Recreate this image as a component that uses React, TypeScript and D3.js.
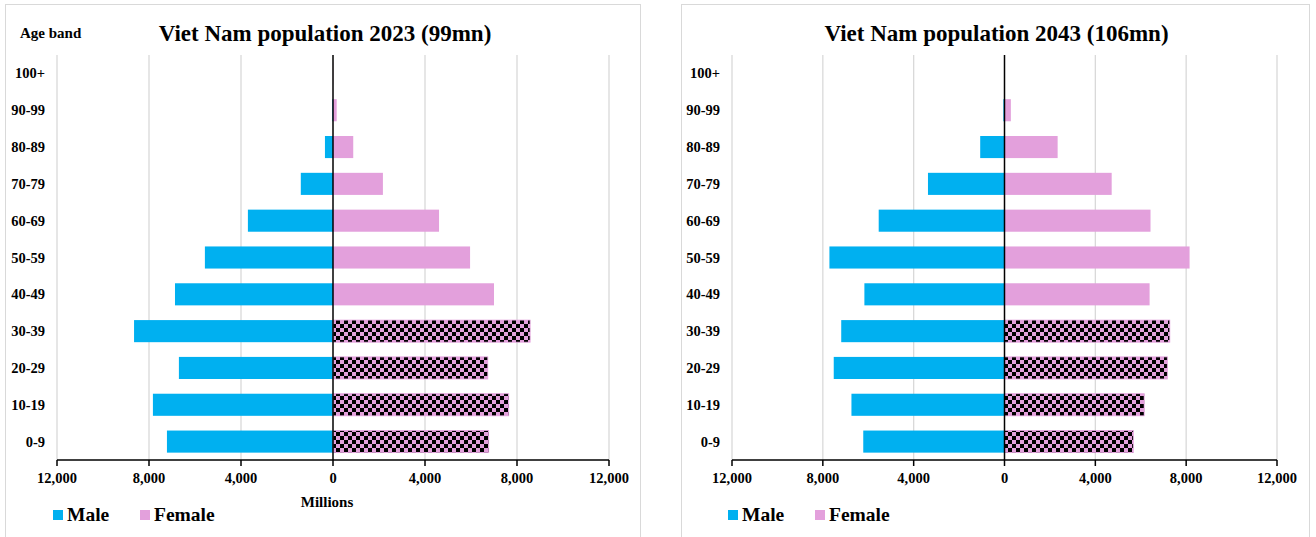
import * as d3 from "d3";

const ageBands = ["0-9", "10-19", "20-29", "30-39", "40-49", "50-59", "60-69", "70-79", "80-89", "90-99", "100+"];
const male2023 = [7220, 7830, 6700, 8650, 6870, 5570, 3700, 1400, 350, 30, 0];
const female2023 = [6770, 7640, 6730, 8570, 7000, 5960, 4610, 2170, 880, 160, 10];
const male2043 = [6220, 6740, 7520, 7190, 6170, 7710, 5540, 3370, 1070, 50, 0];
const female2043 = [5670, 6150, 7170, 7280, 6390, 8150, 6430, 4720, 2340, 280, 15];
// bands whose female bar is drawn with a checkerboard fill
const checkered = ["0-9", "10-19", "20-29", "30-39"];
const tickValues = [-12000, -8000, -4000, 0, 4000, 8000, 12000];

const MALE = "#00b0f0";
const FEMALE = "#e3a0dc";
const FONT = "'Liberation Serif', 'Times New Roman', serif";

type PanelProps = {
  x0: number;
  x1: number;
  axisLeft: number;
  axisRight: number;
  title: string;
  male: number[];
  female: number[];
  showAgeBand: boolean;
  showMillions: boolean;
};

function Panel(p: PanelProps) {
  const x = d3.scaleLinear().domain([-12000, 12000]).range([p.axisLeft, p.axisRight]);
  const y = d3
    .scaleBand<string>()
    .domain([...ageBands].reverse())
    .range([55, 460])
    .paddingInner(0.4)
    .paddingOuter(0.2);
  const fmt = d3.format(",");
  const cx = x(0);
  const bw = y.bandwidth();

  return (
    <g>
      <rect x={p.x0 + 0.5} y={4.5} width={p.x1 - p.x0} height={600} fill="#fff" stroke="#d9d9d9" />
      <text x={(p.axisLeft + p.axisRight) / 2 - 8} y={41} textAnchor="middle" fontSize={23} fontWeight="bold" fontFamily={FONT}>
        {p.title}
      </text>
      {p.showAgeBand && (
        <text x={20} y={38} fontSize={15} fontWeight="bold" fontFamily={FONT}>
          Age band
        </text>
      )}
      {tickValues.map((t) =>
        t === 0 ? null : (
          <line key={"g" + t} x1={x(t)} x2={x(t)} y1={55} y2={460} stroke="#d9d9d9" strokeWidth={1.3} />
        )
      )}
      {ageBands.map((a, i) => {
        const chk = checkered.includes(a);
        return (
          <g key={a}>
            <rect x={x(-p.male[i])} y={y(a)} width={cx - x(-p.male[i])} height={bw} fill={MALE} />
            <rect
              x={cx}
              y={y(a)}
              width={x(p.female[i]) - cx}
              height={bw}
              fill={chk ? "url(#checker)" : FEMALE}
              stroke={chk ? FEMALE : "none"}
              strokeWidth={0.8}
            />
            <text
              x={p.axisLeft - 12}
              y={(y(a) ?? 0) + bw / 2 + 5}
              textAnchor="end"
              fontSize={14.5}
              fontWeight="bold"
              fontFamily={FONT}
            >
              {a}
            </text>
          </g>
        );
      })}
      <line x1={cx} x2={cx} y1={55} y2={460} stroke="#000" strokeWidth={1.5} />
      <line x1={p.axisLeft} x2={p.axisRight} y1={460} y2={460} stroke="#000" strokeWidth={1.5} />
      {tickValues.map((t) => (
        <g key={"t" + t}>
          <line x1={x(t)} x2={x(t)} y1={460} y2={466} stroke="#000" strokeWidth={1.5} />
          <text x={x(t)} y={483} textAnchor="middle" fontSize={14.5} fontWeight="bold" fontFamily={FONT}>
            {fmt(Math.abs(t))}
          </text>
        </g>
      ))}
      {p.showMillions && (
        <text x={cx - 6} y={507} textAnchor="middle" fontSize={15} fontWeight="bold" fontFamily={FONT}>
          Millions
        </text>
      )}
      <rect x={p.axisLeft - 4} y={510} width={10} height={10} fill={MALE} />
      <text x={p.axisLeft + 10} y={521} fontSize={19.5} fontWeight="bold" fontFamily={FONT}>
        Male
      </text>
      <rect x={p.axisLeft + 83} y={510} width={10} height={10} fill={FEMALE} />
      <text x={p.axisLeft + 97} y={521} fontSize={19.5} fontWeight="bold" fontFamily={FONT}>
        Female
      </text>
    </g>
  );
}

export default function App() {
  return (
    <svg
      width={1316}
      height={537}
      style={{ position: "absolute", left: 0, top: 0, background: "#fff" }}
    >
      <defs>
        <pattern id="checker" patternUnits="userSpaceOnUse" width={8} height={8}>
          <rect width={8} height={8} fill={FEMALE} />
          <rect width={4} height={4} fill="#000" />
          <rect x={4} y={4} width={4} height={4} fill="#000" />
        </pattern>
      </defs>
      <Panel
        x0={5}
        x1={640}
        axisLeft={57}
        axisRight={609}
        title="Viet Nam population 2023 (99mn)"
        male={male2023}
        female={female2023}
        showAgeBand={true}
        showMillions={true}
      />
      <Panel
        x0={681}
        x1={1309}
        axisLeft={732}
        axisRight={1277}
        title="Viet Nam population 2043 (106mn)"
        male={male2043}
        female={female2043}
        showAgeBand={false}
        showMillions={false}
      />
    </svg>
  );
}
